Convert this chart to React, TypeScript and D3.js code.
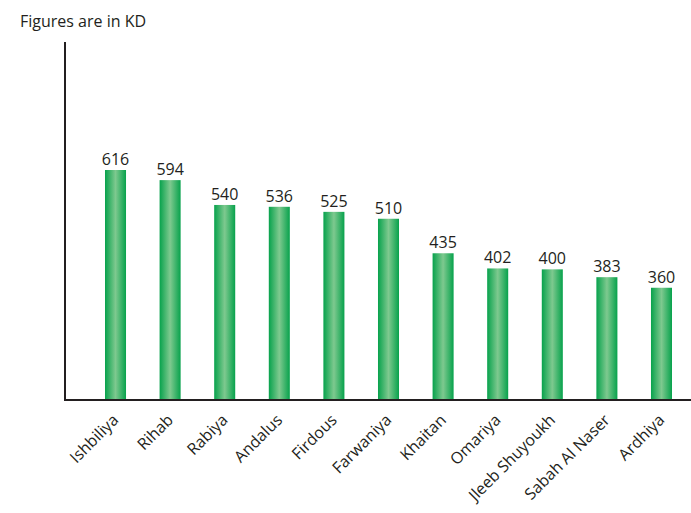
import React from "react";
import * as d3 from "d3";

const categories = [
  "Ishbiliya",
  "Rihab",
  "Rabiya",
  "Andalus",
  "Firdous",
  "Farwaniya",
  "Khaitan",
  "Omariya",
  "Jleeb Shuyoukh",
  "Sabah Al Naser",
  "Ardhiya",
];
const values = [616, 594, 540, 536, 525, 510, 435, 402, 400, 383, 360];
const title = "Figures are in KD";

const W = 691;
const H = 513;
const axisX = 65;
const baseY = 400;
const axisTop = 42;
const FONT = "'Open Sans', 'Noto Sans', sans-serif";
const INK = "#231f20";

export default function App() {
  const x = d3
    .scaleBand<string>()
    .domain(categories)
    .range([105, 672])
    .paddingInner(0.615)
    .paddingOuter(0);

  // value axis is not drawn; its floor sits above zero
  const y = d3.scaleLinear().domain([116, 616]).range([baseY, 170]);

  return (
    <svg
      width={W}
      height={H}
      style={{ position: "absolute", left: 0, top: 0, background: "#fff" }}
    >
      <defs>
        <linearGradient id="barGrad" x1="0" x2="1" y1="0" y2="0">
          <stop offset="0%" stopColor="#07a24c" />
          <stop offset="50%" stopColor="#7ec98f" />
          <stop offset="100%" stopColor="#07a24c" />
        </linearGradient>
      </defs>

      <text x={20} y={27} fontFamily={FONT} fontSize={16} fill={INK}>
        {title}
      </text>

      {categories.map((c, i) => {
        const bx = x(c)!;
        const bw = x.bandwidth();
        const top = y(values[i]);
        const cx = bx + bw / 2;
        return (
          <g key={c}>
            <rect
              x={bx}
              y={top}
              width={bw}
              height={baseY - top}
              fill="url(#barGrad)"
            />
            <text
              x={cx}
              y={top - 5}
              textAnchor="middle"
              fontFamily={FONT}
              fontSize={16}
              fill={INK}
            >
              {values[i]}
            </text>
            <text
              transform={`translate(${cx + 4},${baseY + 21}) rotate(-45)`}
              textAnchor="end"
              fontFamily={FONT}
              fontSize={16}
              fill={INK}
            >
              {c}
            </text>
          </g>
        );
      })}

      <line
        x1={axisX}
        x2={axisX}
        y1={axisTop}
        y2={baseY + 1}
        stroke={INK}
        strokeWidth={2}
      />
      <line
        x1={axisX - 1}
        x2={W}
        y1={baseY}
        y2={baseY}
        stroke={INK}
        strokeWidth={2}
      />
    </svg>
  );
}
